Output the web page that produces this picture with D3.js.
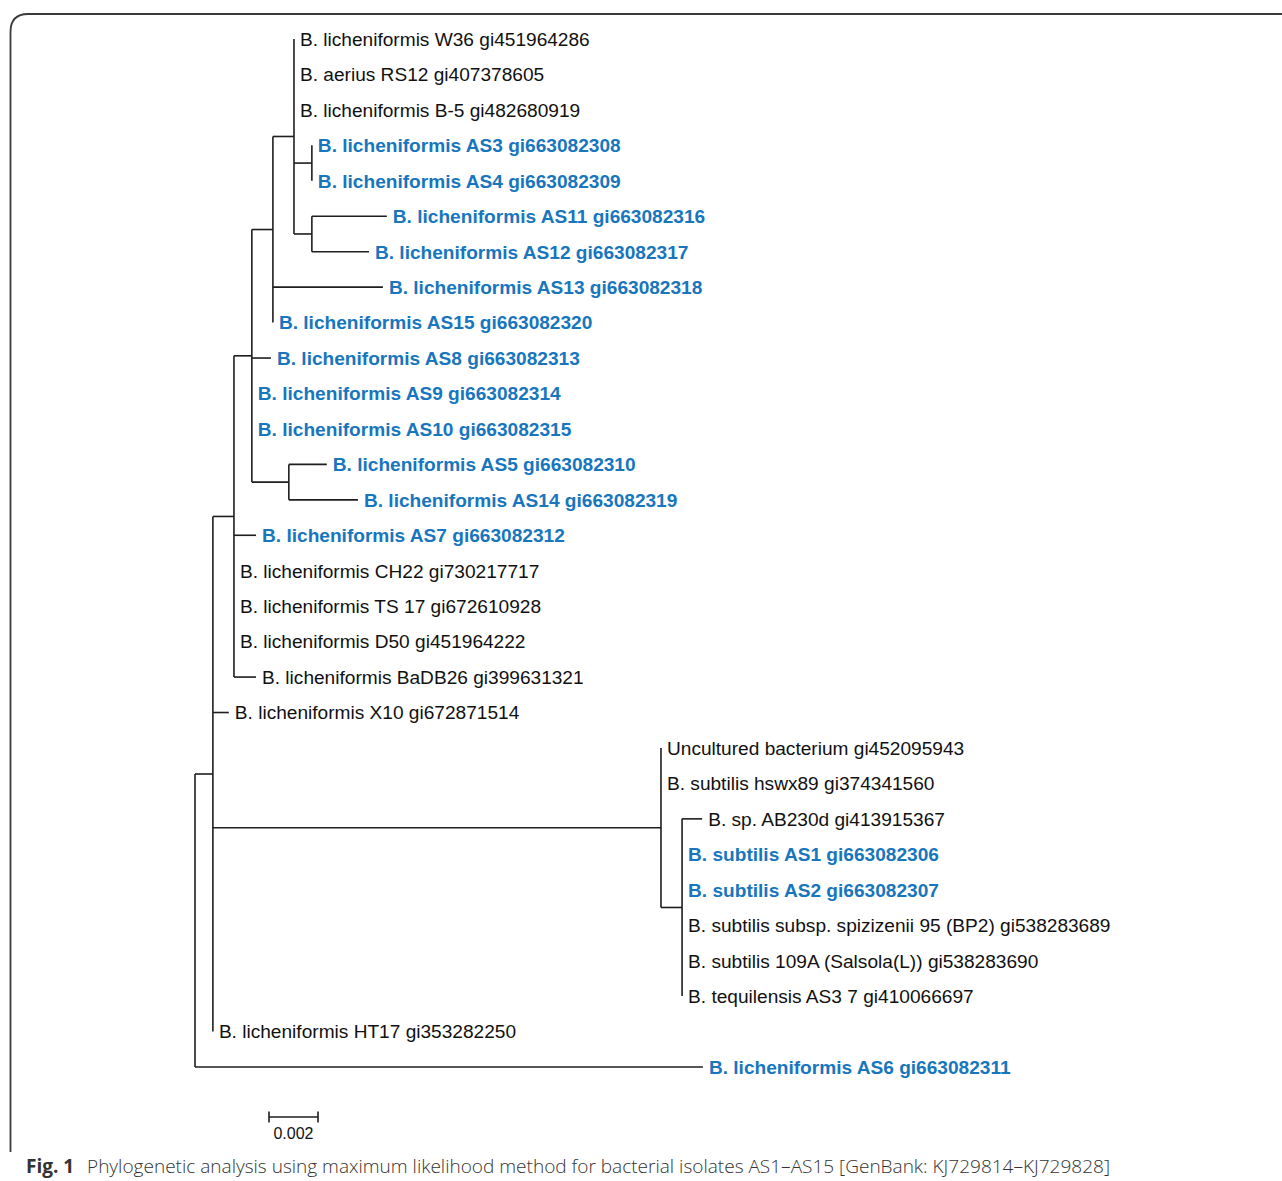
<!DOCTYPE html>
<html>
<head>
<meta charset="utf-8">
<script src="https://cdn.jsdelivr.net/npm/d3@7"></script>
<style>
body { margin: 0; background: #fff; }
</style>
</head>
<body>
<svg id="chart" width="1282" height="1181"></svg>
<script>
// tree, preorder: node id, parent id, branch length (substitutions / site)
var nodeIds = [
    "root",
    "n1",
    "n2",
    "n3",
    "n4",
    "n5",
    "B. licheniformis W36 gi451964286",
    "B. aerius RS12 gi407378605",
    "B. licheniformis B-5 gi482680919",
    "n6",
    "B. licheniformis AS3 gi663082308",
    "B. licheniformis AS4 gi663082309",
    "n7",
    "B. licheniformis AS11 gi663082316",
    "B. licheniformis AS12 gi663082317",
    "B. licheniformis AS13 gi663082318",
    "B. licheniformis AS15 gi663082320",
    "B. licheniformis AS8 gi663082313",
    "B. licheniformis AS9 gi663082314",
    "B. licheniformis AS10 gi663082315",
    "n8",
    "B. licheniformis AS5 gi663082310",
    "B. licheniformis AS14 gi663082319",
    "B. licheniformis AS7 gi663082312",
    "B. licheniformis CH22 gi730217717",
    "B. licheniformis TS 17 gi672610928",
    "B. licheniformis D50 gi451964222",
    "B. licheniformis BaDB26 gi399631321",
    "B. licheniformis X10 gi672871514",
    "n9",
    "Uncultured bacterium gi452095943",
    "B. subtilis hswx89 gi374341560",
    "n10",
    "B. sp. AB230d gi413915367",
    "B. subtilis AS1 gi663082306",
    "B. subtilis AS2 gi663082307",
    "B. subtilis subsp. spizizenii 95 (BP2) gi538283689",
    "B. subtilis 109A (Salsola(L)) gi538283690",
    "B. tequilensis AS3 7 gi410066697",
    "B. licheniformis HT17 gi353282250",
    "B. licheniformis AS6 gi663082311"
];
var parentIds = [
    "", "root", "n1", "n2", "n3", "n4",
    "n5", "n5", "n5", "n5", "n6", "n6", "n5", "n7", "n7",
    "n4", "n4",
    "n3", "n3", "n3", "n3", "n8", "n8",
    "n2", "n2", "n2", "n2", "n2",
    "n1", "n1", "n9", "n9", "n9",
    "n10", "n10", "n10", "n10", "n10", "n10",
    "n1", "root"
];
var branchLengths = [
    0, 0.00073, 0.00086, 0.00073, 0.00086, 0.00086,
    0, 0, 0, 0.00073, 0, 0, 0.00073, 0.00306, 0.00233,
    0.00449, 0,
    0.00078, 0, 0, 0.00151, 0.00155, 0.00282,
    0.0009, 0, 0, 0, 0.0009,
    0.00065, 0.01829, 0, 0, 0.00086,
    0.00082, 0, 0, 0, 0, 0,
    0, 0.02073
];
// isolates from this study (drawn blue, bold)
var isolates = [
    "AS1", "AS2", "AS3", "AS4", "AS5", "AS6", "AS7", "AS8",
    "AS9", "AS10", "AS11", "AS12", "AS13", "AS14", "AS15"
];
var scaleBarValue = 0.002;
var caption = "Phylogenetic analysis using maximum likelihood method for bacterial isolates AS1\u2013AS15 [GenBank: KJ729814\u2013KJ729828]";

var svg = d3.select("#chart");

// frame around the figure
svg.append("path")
    .attr("d", "M10.5,1152 V32 Q10.5,14 28,14 H1282")
    .attr("fill", "none")
    .attr("stroke", "#3a3a3a")
    .attr("stroke-width", 1.8);

var rows = nodeIds.map(function (id, i) {
    return { id: id, parent: parentIds[i], len: branchLengths[i] };
});
var root = d3.stratify()
    .id(function (d) { return d.id; })
    .parentId(function (d) { return d.parent || null; })(rows);

// cumulative depth
root.each(function (n) {
    n.depth0 = n.parent ? n.parent.depth0 + n.data.len : 0;
});

var leaves = root.leaves();
var x = d3.scaleLinear().domain([0, 0.001]).range([195, 219.5]);
var y = d3.scaleLinear().domain([0, leaves.length - 1]).range([39, 1067]);

leaves.forEach(function (n, i) { n.py = y(i); });
root.eachAfter(function (n) {
    if (n.children) {
        n.py = (n.children[0].py + n.children[n.children.length - 1].py) / 2;
    }
});

var g = svg.append("g")
    .attr("fill", "none")
    .attr("stroke", "#1e1e1e")
    .attr("stroke-width", 1.6);

// horizontal branches
g.selectAll("line.h")
    .data(root.descendants().filter(function (n) { return n.parent && n.data.len > 0; }))
    .enter()
    .append("line")
    .attr("class", "h")
    .attr("x1", function (n) { return x(n.parent.depth0); })
    .attr("x2", function (n) { return x(n.depth0); })
    .attr("y1", function (n) { return n.py; })
    .attr("y2", function (n) { return n.py; });

// vertical connectors
g.selectAll("line.v")
    .data(root.descendants().filter(function (n) { return n.children; }))
    .enter()
    .append("line")
    .attr("class", "v")
    .attr("x1", function (n) { return x(n.depth0); })
    .attr("x2", function (n) { return x(n.depth0); })
    .attr("y1", function (n) { return n.children[0].py; })
    .attr("y2", function (n) { return n.children[n.children.length - 1].py; });

function isIsolate(name) {
    var parts = name.split(" ");
    return parts.length === 4 && isolates.indexOf(parts[2]) >= 0 && (parts[1] === "licheniformis" || parts[1] === "subtilis");
}

svg.append("g")
    .selectAll("text")
    .data(leaves)
    .enter()
    .append("text")
    .attr("x", function (n) { return x(n.depth0) + 6; })
    .attr("y", function (n) { return n.py; })
    .attr("dy", "0.36em")
    .attr("font-family", "'Liberation Sans', Arial, sans-serif")
    .attr("font-size", 19.1)
    .attr("font-weight", function (n) { return isIsolate(n.id) ? "bold" : "normal"; })
    .attr("fill", function (n) { return isIsolate(n.id) ? "#1776be" : "#111"; })
    .text(function (n) { return n.id; });

// scale bar
var sx0 = 269, sy = 1117;
var sbar = svg.append("g").attr("stroke", "#1e1e1e").attr("stroke-width", 1.6);
sbar.append("line")
    .attr("x1", sx0).attr("x2", sx0 + x(scaleBarValue) - x(0))
    .attr("y1", sy).attr("y2", sy);
[sx0, sx0 + x(scaleBarValue) - x(0)].forEach(function (px) {
    sbar.append("line").attr("x1", px).attr("x2", px).attr("y1", sy - 5.5).attr("y2", sy + 5.5);
});
svg.append("text")
    .attr("x", sx0 + (x(scaleBarValue) - x(0)) / 2)
    .attr("y", 1139)
    .attr("text-anchor", "middle")
    .attr("font-family", "'Liberation Sans', Arial, sans-serif")
    .attr("font-size", 16)
    .attr("fill", "#111")
    .text(scaleBarValue.toFixed(3));

// caption
var cap = svg.append("text")
    .attr("x", 26)
    .attr("y", 1173)
    .attr("font-family", "'Open Sans', 'Noto Sans', sans-serif")
    .attr("font-size", 19)
    .attr("fill", "#333");
cap.append("tspan").attr("font-weight", "bold").text("Fig. 1");
cap.append("tspan").attr("x", 87).attr("font-weight", 300).attr("textLength", 1023).attr("lengthAdjust", "spacingAndGlyphs").text(caption);
</script>
</body>
</html>
